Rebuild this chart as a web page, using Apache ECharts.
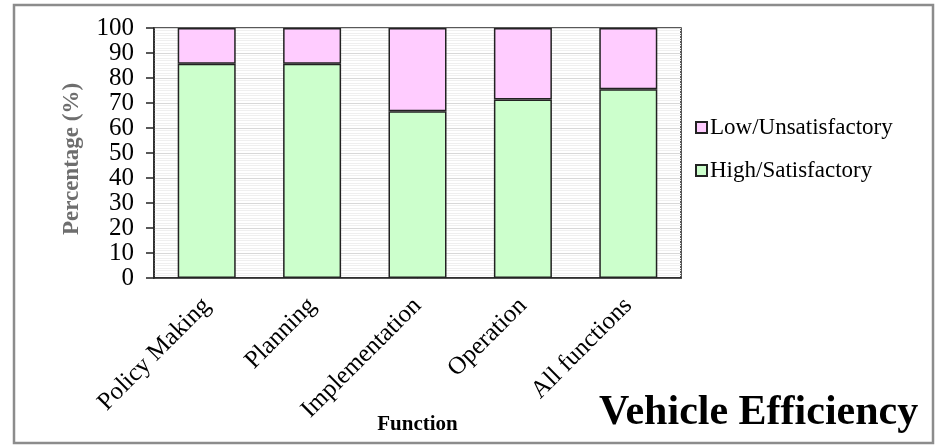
<!DOCTYPE html>
<html>
<head>
<meta charset="utf-8">
<script src="https://cdn.jsdelivr.net/npm/echarts@6/dist/echarts.min.js"></script>
<style>
  html, body { margin: 0; padding: 0; background: #ffffff; }
  #chart { width: 935px; height: 448px; }
</style>
</head>
<body>
<div id="chart"></div>
<script>
// Share of respondents rating vehicle efficiency, by function
const categories = ['Policy Making', 'Planning', 'Implementation', 'Operation', 'All functions'];
const highSatisfactory = [85.7, 85.7, 66.7, 71.4, 75.5];
const lowUnsatisfactory = [14.3, 14.3, 33.3, 28.6, 24.5];
const yTicks = { min: 0, max: 100, interval: 10 };

const serif = '"Liberation Serif", "Times New Roman", serif';

const chart = echarts.init(document.getElementById('chart'), null, { renderer: 'canvas' });

chart.setOption({
  animation: false,
  backgroundColor: '#ffffff',
  title: {
    text: 'Vehicle Efficiency',
    left: 594,
    top: 387,
    textStyle: { fontFamily: serif, fontSize: 42, fontWeight: 'bold', color: '#000' }
  },
  legend: {
    orient: 'vertical',
    left: 690,
    top: 111,
    itemGap: 20,
    itemWidth: 11,
    itemHeight: 11,
    icon: 'rect',
    data: ['Low/Unsatisfactory', 'High/Satisfactory'],
    textStyle: { fontFamily: serif, fontSize: 23, color: '#000', padding: [0, 0, 0, -2] }
  },
  graphic: [{
    type: 'rect',
    shape: { x: 14, y: 5, width: 919, height: 438 },
    style: { fill: null, stroke: '#8c8c8c', lineWidth: 2.5 },
    z: 100
  }],
  grid: {
    left: 154, right: 254, top: 28, bottom: 170,
    containLabel: false,
    outerBoundsMode: 'none',
    show: true,
    backgroundColor: '#ffffff',
    borderColor: '#222',
    borderWidth: 1.5
  },
  xAxis: {
    type: 'category',
    data: categories,
    name: 'Function',
    nameLocation: 'middle',
    nameGap: 136,
    nameMoveOverlap: false,
    nameTextStyle: { fontFamily: serif, fontSize: 21, fontWeight: 'bold', color: '#000' },
    axisLine: { lineStyle: { color: '#222', width: 1.5 } },
    axisTick: { show: false },
    axisLabel: {
      rotate: 45,
      margin: 24,
      interval: 0,
      fontFamily: serif,
      fontSize: 25,
      color: '#000'
    }
  },
  yAxis: {
    type: 'value',
    min: yTicks.min,
    max: yTicks.max,
    interval: yTicks.interval,
    name: 'Percentage (%)',
    nameLocation: 'middle',
    nameGap: 70,
    nameMoveOverlap: false,
    nameTextStyle: {
      fontFamily: serif, fontSize: 23, fontWeight: 'bold', color: '#6e6e6e',
      padding: [0, 12, 0, 0]
    },
    axisLine: { show: true, lineStyle: { color: '#222', width: 1.5 } },
    axisTick: { show: true, length: 8, lineStyle: { color: '#222', width: 1.5 } },
    axisLabel: {
      margin: 20,
      showMinLabel: true,
      showMaxLabel: true,
      hideOverlap: false,
      fontFamily: serif,
      fontSize: 25,
      color: '#000'
    },
    splitLine: { show: true, lineStyle: { color: '#d8d8d8', width: 1 } },
    minorTick: { show: false, splitNumber: 10 },
    minorSplitLine: { show: true, lineStyle: { color: '#efefef', width: 1 } }
  },
  series: [
    {
      name: 'High/Satisfactory',
      type: 'bar',
      stack: 'total',
      data: highSatisfactory,
      barWidth: 58,
      itemStyle: { color: '#ccffcc', borderColor: '#222', borderWidth: 1.5 }
    },
    {
      name: 'Low/Unsatisfactory',
      type: 'bar',
      stack: 'total',
      data: lowUnsatisfactory,
      barWidth: 58,
      itemStyle: { color: '#ffccff', borderColor: '#222', borderWidth: 1.5 }
    }
  ]
});
</script>
</body>
</html>
